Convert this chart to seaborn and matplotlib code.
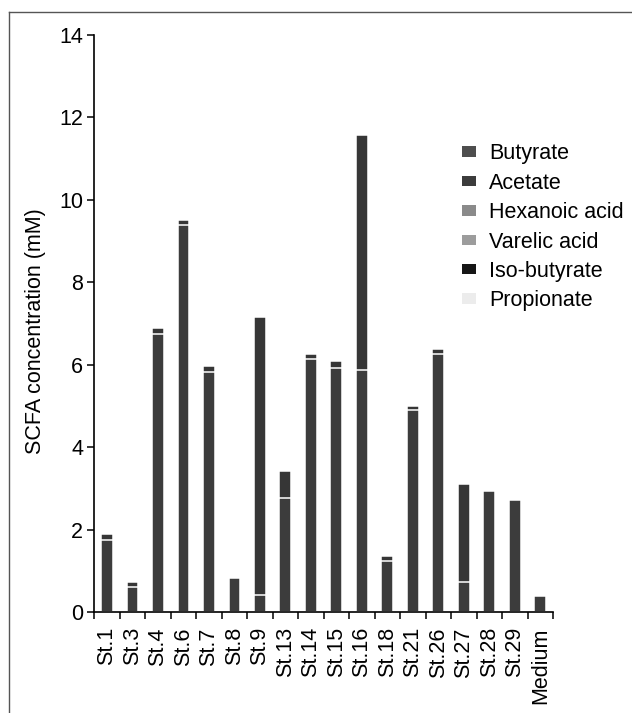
import numpy as np
import pandas as pd
import matplotlib.pyplot as plt
import seaborn as sns
from matplotlib.patches import Patch
from matplotlib.lines import Line2D

# Strains / samples on the x axis
strains = ['St.1', 'St.3', 'St.4', 'St.6', 'St.7', 'St.8', 'St.9', 'St.13', 'St.14',
           'St.15', 'St.16', 'St.18', 'St.21', 'St.26', 'St.27', 'St.28', 'St.29', 'Medium']

# SCFA concentrations (mM)
acetate = [1.75, 0.61, 6.74, 9.39, 5.83, 0.83, 0.40, 2.76, 6.14,
           5.93, 5.88, 1.24, 4.89, 6.25, 0.73, 2.94, 2.72, 0.39]
butyrate = [0.14, 0.12, 0.14, 0.11, 0.13, 0.0, 6.76, 0.65, 0.11,
            0.17, 5.69, 0.13, 0.10, 0.14, 2.38, 0.0, 0.0, 0.0]
hexanoic = [0.0] * 18
varelic = [0.0] * 18
isobutyrate = [0.0] * 18
propionate = [0.0] * 18

# stack order, bottom -> top
layers = [
    ('Propionate', propionate, '#ececec'),
    ('Iso-butyrate', isobutyrate, '#161616'),
    ('Varelic acid', varelic, '#9c9c9c'),
    ('Hexanoic acid', hexanoic, '#8a8a8a'),
    ('Acetate', acetate, '#3c3c3c'),
    ('Butyrate', butyrate, '#363636'),
]

df = pd.DataFrame({'Strain': strains})
running = np.zeros(len(strains))
cum_cols = []
for name, vals, color in layers:
    running = running + np.array(vals)
    df[name] = running
    cum_cols.append((name, color))

plt.rcParams['font.family'] = ['Liberation Sans', 'DejaVu Sans']
fs = 15.5
fig = plt.figure(figsize=(6.32, 7.13), dpi=100)
ax = fig.add_axes([0.149, 0.1417, 0.726, 0.8093])

# draw cumulative totals from the top layer down so the lower ones sit in front
for name, color in reversed(cum_cols):
    sns.barplot(data=df, x='Strain', y=name, color=color, width=0.46,
                edgecolor='white', linewidth=1.1, saturation=1, ax=ax)

ax.set_xlim(-0.5, 17.5)
ax.set_ylim(0, 14)
ax.set_yticks(range(0, 15, 2))
ax.set_xlabel('')
ax.set_ylabel('SCFA concentration (mM)', fontsize=fs)
ax.yaxis.set_label_coords(-0.106, 0.487)
ax.set_xticks(range(len(strains)))
ax.set_xticklabels(strains, rotation=90, fontsize=fs)
ax.set_xticks(np.arange(-0.5, 18, 1), minor=True)
ax.tick_params(axis='x', which='major', length=0, pad=11)
ax.tick_params(axis='x', which='minor', length=5, width=1.1, direction='out')
ax.tick_params(axis='y', length=5, width=1.1, labelsize=fs, pad=3)
for s in ['top', 'right']:
    ax.spines[s].set_visible(False)
for s in ['left', 'bottom']:
    ax.spines[s].set_linewidth(1.2)
ax.set_facecolor('white')

# legend in the original order
legend_order = ['Butyrate', 'Acetate', 'Hexanoic acid', 'Varelic acid', 'Iso-butyrate', 'Propionate']
colors = dict((n, c) for n, _, c in layers)
colors['Butyrate'] = '#4e4e4e'
handles = [Patch(facecolor=colors[n], edgecolor='none', label=n) for n in legend_order]
fig.legend(handles=handles, loc='upper left', bbox_to_anchor=(0.731, 0.799),
           frameon=False, fontsize=fs, handlelength=0.65, handleheight=0.37,
           handletextpad=0.6, labelspacing=0.39, borderpad=0, borderaxespad=0)

# scanned page border (top and left)
fig.add_artist(Line2D([9 / 632, 9 / 632], [0, 1 - 12 / 713], color='#555555', lw=1))
fig.add_artist(Line2D([9 / 632, 1], [1 - 12 / 713, 1 - 12 / 713], color='#555555', lw=1))

fig.savefig('out.png', dpi=100)
